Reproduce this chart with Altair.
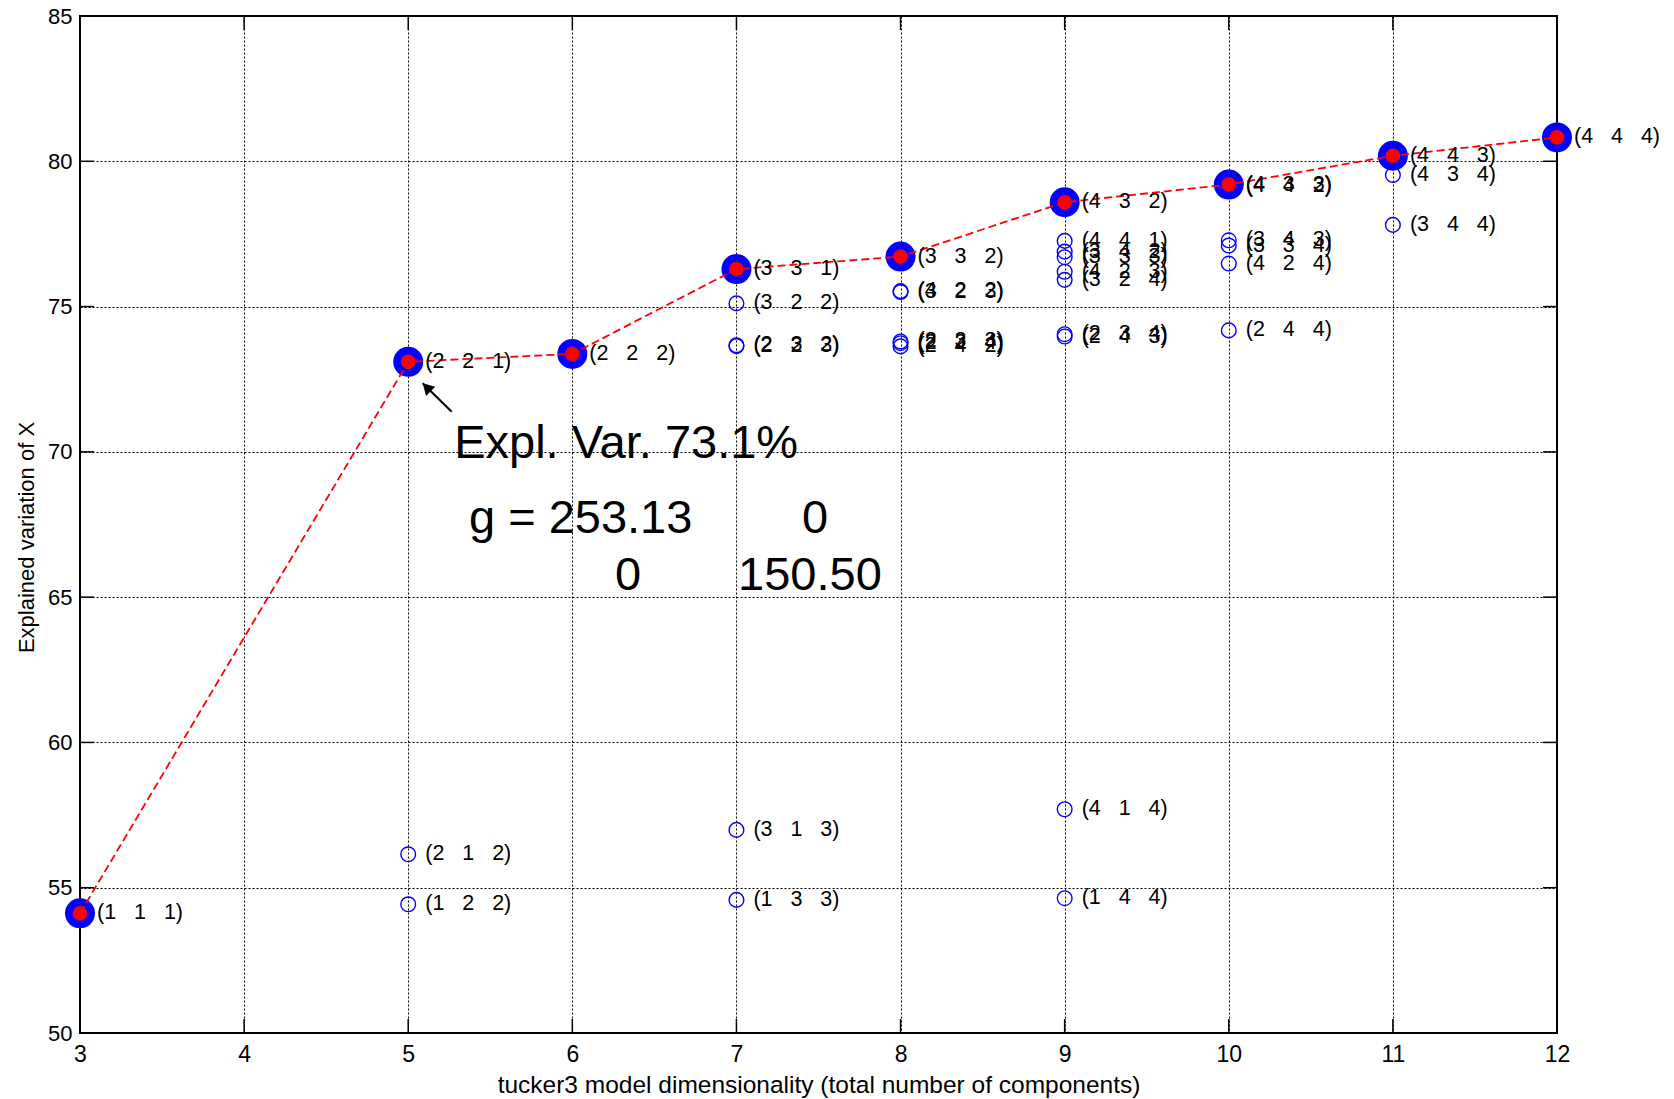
import altair as alt
import pandas as pd

# Tucker3 models (components per mode) and the explained variation of X (%)
components = [
    "1 1 1",
    "2 2 1", "2 1 2", "1 2 2",
    "2 2 2",
    "3 3 1", "3 2 2", "2 3 2", "2 2 3", "3 1 3", "1 3 3",
    "3 3 2", "4 2 2", "3 2 3", "2 3 3", "2 2 4", "2 4 2",
    "4 3 2", "4 4 1", "3 4 2", "3 3 3", "4 2 3", "3 2 4", "2 3 4", "2 4 3", "4 1 4", "1 4 4",
    "4 3 3", "4 4 2", "3 4 3", "3 3 4", "4 2 4", "2 4 4",
    "4 4 3", "4 3 4", "3 4 4",
    "4 4 4",
]
explained = [
    54.12,
    73.1, 56.15, 54.43,
    73.37,
    76.29, 75.11, 73.67, 73.64, 56.99, 54.58,
    76.72, 75.53, 75.50, 73.80, 73.74, 73.63,
    78.59, 77.26, 76.89, 76.70, 76.20, 75.92, 74.05, 73.97, 57.70, 54.64,
    79.20, 79.15, 77.28, 77.10, 76.48, 74.18,
    80.19, 79.53, 77.81,
    80.82,
]
# best model for each total number of components
best_models = ["1 1 1", "2 2 1", "2 2 2", "3 3 1", "3 3 2", "4 3 2", "4 3 3", "4 4 3", "4 4 4"]

x_ticks = list(range(3, 13))
y_ticks = list(range(50, 90, 5))

# annotation for the selected (2 2 1) model
ann_text = ["Expl. Var. 73.1%", "g = 253.13", "0", "0", "150.50"]
ann_x = [5.28, 5.37, 7.40, 6.26, 7.01]
ann_y = [69.79, 67.20, 67.20, 65.25, 65.25]
arrow_tail = (5.265, 71.38)
arrow_tip = (5.088, 72.36)

W, H = 1477, 1017
FONT = "Liberation Sans, Arial, Helvetica, sans-serif"
NB = "\u00a0"

df = pd.DataFrame({"comp": components, "y": explained})
df["x"] = df["comp"].apply(lambda c: sum(int(v) for v in c.split()))
df["label"] = df["comp"].apply(lambda c: "(" + (NB * 3).join(c.split()) + ")")
df["best"] = df["comp"].isin(best_models)
best = df[df["best"]].sort_values("x")
others = df[~df["best"]]

xscale = alt.Scale(domain=[3, 12], nice=False, zero=False)
yscale = alt.Scale(domain=[50, 85], nice=False, zero=False)

xaxis = alt.Axis(
    values=x_ticks, format="d", title="tucker3 model dimensionality (total number of components)",
    grid=True, gridDash=[2, 2], gridColor="black", gridWidth=1, gridOpacity=1,
    ticks=False, domain=False, labelFlush=False, labelOverlap=False,
    labelFontSize=23, labelPadding=10, labelColor="black",
    titleFontSize=24.5, titleFontWeight="normal", titleColor="black",
    titleX=W / 2, titleY=59, titleBaseline="alphabetic",
)
yaxis = alt.Axis(
    values=y_ticks, format="d", title="Explained variation of X",
    grid=True, gridDash=[2, 2], gridColor="black", gridWidth=1, gridOpacity=1,
    ticks=False, domain=False, labelOverlap=False,
    labelFontSize=22, labelPadding=8, labelColor="black",
    titleFontSize=22, titleFontWeight="normal", titleColor="black",
    titleX=-47, titleY=521, titleAngle=-90, titleBaseline="alphabetic",
)


def X(field="x"):
    return alt.X(f"{field}:Q", scale=xscale, axis=xaxis)


def Y(field="y"):
    return alt.Y(f"{field}:Q", scale=yscale, axis=yaxis)


base_grid = alt.Chart(df).mark_point(opacity=0).encode(x=X(), y=Y())

# inward tick marks on all four sides of the box
xt = pd.DataFrame({"x": x_ticks})
yt = pd.DataFrame({"y": y_ticks})
tick_style = dict(color="black", strokeWidth=1.5)
ticks_bottom = alt.Chart(xt).mark_rule(**tick_style).encode(x=X(), y=alt.value(H), y2=alt.value(H - 14))
ticks_top = alt.Chart(xt).mark_rule(**tick_style).encode(x=X(), y=alt.value(0), y2=alt.value(14))
ticks_left = alt.Chart(yt).mark_rule(**tick_style).encode(y=Y(), x=alt.value(0), x2=alt.value(14))
ticks_right = alt.Chart(yt).mark_rule(**tick_style).encode(y=Y(), x=alt.value(W), x2=alt.value(W - 14))

open_circles = alt.Chart(others).mark_point(
    shape="circle", filled=False, color="#0000ff", size=216, strokeWidth=1.4, opacity=1, clip=False
).encode(x=X(), y=Y())

big_blue = alt.Chart(best).mark_point(
    shape="circle", filled=True, color="#0000ff", size=900, opacity=1, clip=False
).encode(x=X(), y=Y())

best_line = alt.Chart(best).mark_line(
    color="#ff0000", strokeWidth=1.8, strokeDash=[8, 4], clip=False
).encode(x=X(), y=Y(), order="x:Q")

red_dots = alt.Chart(best).mark_point(
    shape="circle", filled=True, color="#ff0000", size=216, opacity=1, clip=False
).encode(x=X(), y=Y())

labels = alt.Chart(df).mark_text(
    align="left", baseline="middle", dx=17, fontSize=21.5, color="black", font=FONT, clip=False
).encode(x=X(), y=Y(), text="label:N")

ann_df = pd.DataFrame({"x": ann_x, "y": ann_y, "t": ann_text})
annotation = alt.Chart(ann_df).mark_text(
    align="left", baseline="alphabetic", fontSize=47, color="black", font=FONT
).encode(x=X(), y=Y(), text="t:N")

arrow_df = pd.DataFrame({"x": [arrow_tail[0]], "y": [arrow_tail[1]],
                         "x2": [arrow_tip[0]], "y2": [arrow_tip[1]]})
arrow_line = alt.Chart(arrow_df).mark_rule(color="black", strokeWidth=2).encode(
    x=X(), y=Y(), x2="x2:Q", y2="y2:Q"
)
arrow_head = alt.Chart(arrow_df).mark_point(
    shape="triangle-up", filled=True, color="black", size=170, angle=315,
    opacity=1, xOffset=4, yOffset=4
).encode(x=X("x2"), y=Y("y2"))

chart = alt.layer(
    base_grid, ticks_bottom, ticks_top, ticks_left, ticks_right,
    open_circles, big_blue, best_line, red_dots, labels,
    annotation, arrow_line, arrow_head,
).properties(
    width=W, height=H,
    autosize=alt.AutoSizeParams(type="none"),
    padding={"left": 80, "top": 16, "right": 117, "bottom": 66},
).configure(
    font=FONT, background="white"
).configure_view(
    stroke="black", strokeWidth=2, fill="white"
)

chart.save("out.html", embed_options={"renderer": "svg", "actions": False})
